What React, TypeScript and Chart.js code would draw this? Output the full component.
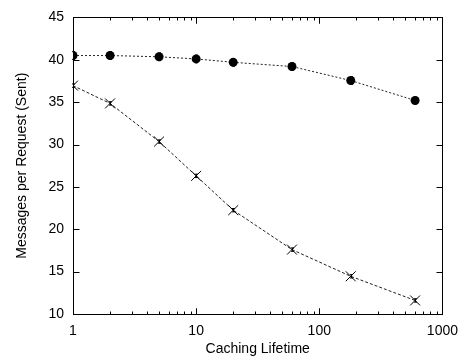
import React, { useEffect, useRef } from "react";
import { Chart, registerables } from "chart.js";

Chart.register(...registerables);

const lifetimes = [1, 2, 5, 10, 20, 60, 180, 600];
const withCache = [40.5, 40.5, 40.35, 40.1, 39.7, 39.2, 37.55, 35.2];
const withCacheErr = [0.45, 0.45, 0.45, 0.45, 0.45, 0.45, 0.45, 0.4];
const noCache = [36.95, 34.85, 30.35, 26.3, 22.25, 17.6, 14.45, 11.6];
const noCacheErr = [0.2, 0.2, 0.2, 0.2, 0.2, 0.2, 0.2, 0.2];
const xTickValues = [1, 10, 100, 1000];
const yTickValues = [10, 15, 20, 25, 30, 35, 40, 45];
const errors = [withCacheErr, noCacheErr];

const FONT = "'Liberation Sans', Arial, Helvetica, sans-serif";

const framePlugin = {
  id: "frame",
  afterDatasetsDraw(chart: any) {
    const { ctx, chartArea: a, scales } = chart;
    const xs = scales.x;
    const ys = scales.y;
    ctx.save();
    // error bars
    chart.data.datasets.forEach((ds: any, i: number) => {
      const err = errors[i];
      ctx.strokeStyle = "#000";
      ctx.lineWidth = 1;
      ds.data.forEach((p: any, j: number) => {
        const px = Math.round(xs.getPixelForValue(p.x)) + 0.5;
        const y1 = ys.getPixelForValue(p.y - err[j]);
        const y2 = ys.getPixelForValue(p.y + err[j]);
        ctx.beginPath();
        ctx.moveTo(px, y1);
        ctx.lineTo(px, y2);
        ctx.moveTo(px - 1.5, y1);
        ctx.lineTo(px + 1.5, y1);
        ctx.moveTo(px - 1.5, y2);
        ctx.lineTo(px + 1.5, y2);
        ctx.stroke();
      });
    });
    // frame
    ctx.strokeStyle = "#000";
    ctx.lineWidth = 1;
    const L = Math.round(a.left) + 0.5;
    const R = Math.round(a.right) + 0.5;
    const T = Math.round(a.top) + 0.5;
    const B = Math.round(a.bottom) + 0.5;
    ctx.strokeRect(L, T, R - L, B - T);
    ctx.beginPath();
    yTickValues.forEach((v) => {
      const py = Math.round(ys.getPixelForValue(v)) + 0.5;
      ctx.moveTo(L, py);
      ctx.lineTo(L + 6, py);
      ctx.moveTo(R, py);
      ctx.lineTo(R - 6, py);
    });
    for (let d = 1; d < 1000; d *= 10) {
      for (let k = 1; k <= 10; k++) {
        const v = d * k;
        if (v > 1000) continue;
        const len = k === 1 || k === 10 ? 6 : 3;
        const px = Math.round(xs.getPixelForValue(v)) + 0.5;
        ctx.moveTo(px, B);
        ctx.lineTo(px, B - len);
        ctx.moveTo(px, T);
        ctx.lineTo(px, T + len);
      }
    }
    ctx.stroke();
    ctx.restore();
  },
};

export default function App() {
  const ref = useRef<HTMLCanvasElement>(null);
  useEffect(() => {
    document.body.style.margin = "0";
    const chart = new Chart(ref.current!, {
      type: "line",
      data: {
        datasets: [
          {
            label: "with cache",
            data: lifetimes.map((x, i) => ({ x, y: withCache[i] })),
            borderColor: "#222",
            borderWidth: 1,
            borderDash: [2, 2],
            pointStyle: "circle",
            pointRadius: 4.5,
            pointBackgroundColor: "#000",
            pointBorderColor: "#000",
            pointBorderWidth: 0,
            tension: 0,
          },
          {
            label: "no cache",
            data: lifetimes.map((x, i) => ({ x, y: noCache[i] })),
            borderColor: "#222",
            borderWidth: 1,
            borderDash: [3, 2],
            pointStyle: "crossRot",
            pointRadius: 7,
            pointBorderColor: "#000",
            pointBorderWidth: 1,
            tension: 0,
          },
        ],
      },
      options: {
        animation: false,
        responsive: false,
        devicePixelRatio: 1,
        layout: { padding: { top: 12, right: 22, left: 0, bottom: 0 } },
        plugins: { legend: { display: false }, tooltip: { enabled: false } },
        scales: {
          x: {
            type: "logarithmic",
            min: 1,
            max: 1000,
            grid: { display: false, drawTicks: false },
            border: { display: false },
            afterBuildTicks: (s: any) => {
              s.ticks = xTickValues.map((v) => ({ value: v }));
            },
            afterFit: (s: any) => {
              s.height = 46;
            },
            ticks: {
              color: "#000",
              font: { family: FONT, size: 14 },
              padding: 9,
              maxRotation: 0,
              autoSkip: false,
              callback: (v: any) => String(v),
            },
            title: {
              display: true,
              text: "Caching Lifetime",
              color: "#000",
              font: { family: FONT, size: 14 },
              padding: { top: 0, bottom: 2 },
            },
          },
          y: {
            min: 10,
            max: 45,
            grid: { display: false, drawTicks: false },
            border: { display: false },
            afterBuildTicks: (s: any) => {
              s.ticks = yTickValues.map((v) => ({ value: v }));
            },
            afterFit: (s: any) => {
              s.width = 73;
            },
            ticks: {
              color: "#000",
              font: { family: FONT, size: 14 },
              padding: 9,
              autoSkip: false,
            },
            title: {
              display: true,
              text: "Messages per Request (Sent)",
              color: "#000",
              font: { family: FONT, size: 14 },
              padding: { top: 14, bottom: 0 },
            },
          },
        },
      },
      plugins: [framePlugin],
    });
    return () => chart.destroy();
  }, []);
  return (
    <div style={{ width: 467, height: 360 }}>
      <canvas ref={ref} width={467} height={360} />
    </div>
  );
}
